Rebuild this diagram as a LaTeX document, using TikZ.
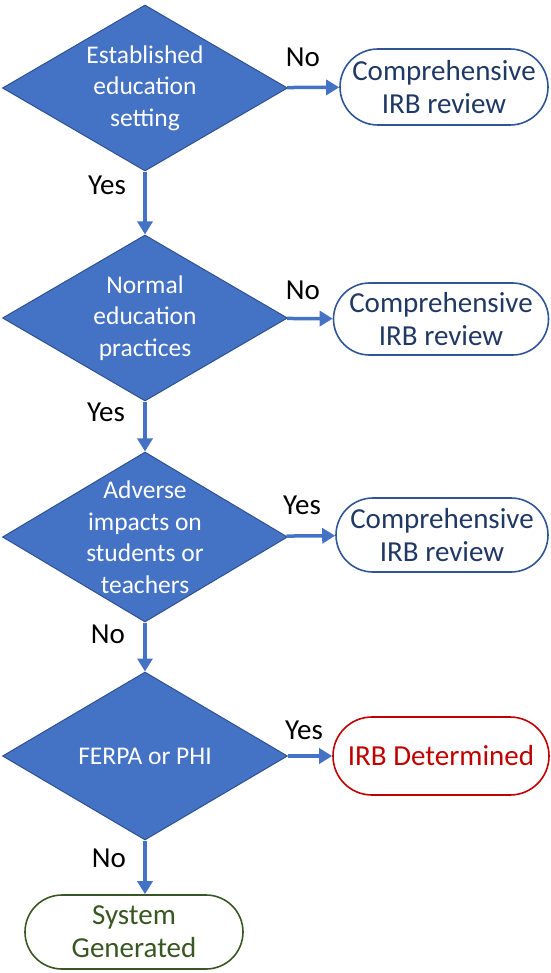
\documentclass[tikz,border=0pt]{standalone}
\usepackage{fontspec}
\setmainfont{Carlito}
\usetikzlibrary{shapes.geometric,shapes.misc,arrows.meta}
\definecolor{dfill}{HTML}{4472C4}
\definecolor{dborder}{HTML}{2F528F}
\definecolor{revblue}{HTML}{203864}
\definecolor{revborder}{HTML}{2F5597}
\definecolor{irbred}{HTML}{C00000}
\definecolor{sysgreen}{HTML}{385723}
\begin{document}
\begin{tikzpicture}[x=1pt, y=-1pt, >={Triangle[length=13pt,width=15pt]},
	decision/.style={diamond, fill=dfill, draw=dborder, line width=1pt, inner sep=0pt,
		minimum width=285pt, minimum height=166pt},
	dtext/.style={text=white, align=center, font=\fontsize{25.5}{31.5}\selectfont},
	outcome/.style={rounded rectangle, draw=revborder, text=revblue, line width=1.6pt, align=center,
		inner sep=0pt, font=\fontsize{29}{33}\selectfont},
	flow/.style={->, draw=dfill, line width=3.5pt},
	answer/.style={font=\fontsize{29}{29}\selectfont}]
	\useasboundingbox (0,0) rectangle (550,973);
	
	% decisions
	\node[decision] (est) at (145,88) {};
	\node[dtext] (estt) at (est) {Established\\education\\setting};
	\node[decision] (norm) at (145,318) {};
	\node[dtext] (normt) at (norm) {Normal\\education\\practices};
	\node[decision, minimum height=170pt] (adv) at (145,537) {};
	\node[dtext] (advt) at (adv) {Adverse\\impacts on\\students or\\teachers};
	\node[decision, minimum height=168pt] (ferpa) at (145,756) {};
	\node[dtext] (ferpat) at (ferpa) {FERPA or PHI};
	
	% outcomes
	\node[outcome, minimum width=208pt, minimum height=76pt] (rev1) at (444,87) {Comprehensive\\IRB review};
	\node[outcome, minimum width=215pt, minimum height=72pt] (rev2) at (441,319) {Comprehensive\\IRB review};
	\node[outcome, minimum width=212pt, minimum height=74pt] (rev3) at (442,535) {Comprehensive\\IRB review};
	\node[outcome, minimum width=216pt, minimum height=78pt, draw=irbred, text=irbred] (irb) at (441,756) {IRB Determined};
	\node[outcome, minimum width=218pt, minimum height=74pt, draw=sysgreen, text=sysgreen] (sys) at (134,932) {System\\Generated};
	
	% connectors
	\draw[flow] (est) -- (rev1);
	\draw[flow] (norm) -- (rev2);
	\draw[flow] (adv) -- (rev3);
	\draw[flow] (ferpa) -- (irb);
	\draw[flow] (est) -- (norm);
	\draw[flow] (norm) -- (adv);
	\draw[flow] (adv) -- (ferpa);
	\draw[flow] (ferpa.south) -- (ferpa.south |- sys.north);
	
	% answers
	\node[answer] (a1) at (303,57) {No};
	\node[answer] (a2) at (303,290) {No};
	\node[answer] (a3) at (302,505) {Yes};
	\node[answer] (a4) at (304,730) {Yes};
	\node[answer] (a5) at (107,185) {Yes};
	\node[answer] (a6) at (106,412) {Yes};
	\node[answer] (a7) at (108,634) {No};
	\node[answer] (a8) at (109,858) {No};
\end{tikzpicture}
\end{document}
